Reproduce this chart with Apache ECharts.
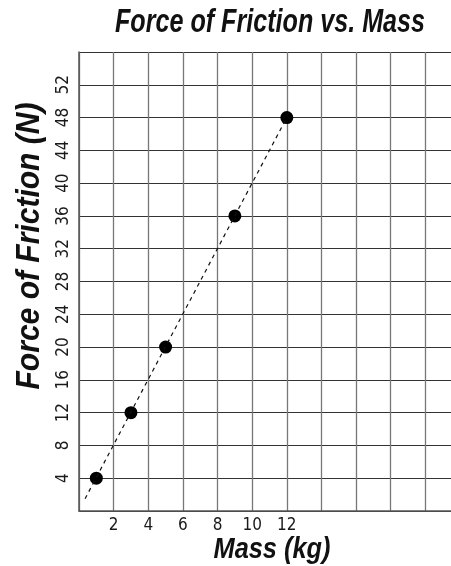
<!DOCTYPE html>
<html><head><meta charset="utf-8">
<script src="https://cdn.jsdelivr.net/npm/echarts@6/dist/echarts.min.js"></script>
<style>html,body{margin:0;padding:0;background:#fff}#c{width:451px;height:566px}</style>
</head><body><div id="c"></div>
<script>
const massKg = [1, 3, 5, 9, 12];
const frictionN = [4, 12, 20, 36, 48];
const trendLine = [[0.35, 1.5], [12, 48]];
const xTickLabels = [2, 4, 6, 8, 10, 12];
const yTickLabels = [4, 8, 12, 16, 20, 24, 28, 32, 36, 40, 44, 48, 52];
const titleText = 'Force of Friction vs. Mass';
const xName = 'Mass (kg)';
const yName = 'Force of Friction (N)';

const NAME_FONT = "'Liberation Sans', Arial, sans-serif";
const TICK_FONT = "'DejaVu Sans Condensed', 'Liberation Sans', sans-serif";
const cv = document.createElement('canvas').getContext('2d');
function condensed(text, size, targetWidth) {
  const font = `italic bold ${size}px ${NAME_FONT}`;
  cv.font = font;
  return {font, scale: targetWidth / cv.measureText(text).width};
}
const t = condensed(titleText, 34, 310);
const xn = condensed(xName, 30, 117);
const yn = condensed(yName, 34, 287);

const chart = echarts.init(document.getElementById('c'));
chart.setOption({
  animation: false,
  grid: {left: 79, top: 52, width: 381, height: 459, outerBoundsMode: 'none', containLabel: false},
  graphic: [
    {type: 'text', x: 270, y: 23, scaleX: t.scale,
     style: {text: titleText, font: t.font, fill: '#111', textAlign: 'center', textVerticalAlign: 'middle'}},
    {type: 'text', x: 272, y: 550, scaleX: xn.scale,
     style: {text: xName, font: xn.font, fill: '#111', textAlign: 'center', textVerticalAlign: 'middle'}},
    {type: 'text', x: 30, y: 246, rotation: Math.PI / 2, scaleX: yn.scale,
     style: {text: yName, font: yn.font, fill: '#111', textAlign: 'center', textVerticalAlign: 'middle'}}
  ],
  xAxis: {
    type: 'value', min: 0, max: 22, interval: 2,
    axisLine: {show: true, lineStyle: {color: '#555', width: 1.5}},
    axisTick: {show: false},
    axisLabel: {
      fontFamily: TICK_FONT, fontSize: 17, color: '#1a1a1a', margin: 6,
      formatter: v => xTickLabels.includes(v) ? String(v) : ''
    },
    splitLine: {show: true, lineStyle: {color: '#777', width: 1.3}}
  },
  yAxis: {
    type: 'value', min: 0, max: 56, interval: 4,
    axisLine: {show: true, lineStyle: {color: '#555', width: 1.5}},
    axisTick: {show: false},
    axisLabel: {
      fontFamily: TICK_FONT, fontSize: 17, color: '#1a1a1a', rotate: 90, margin: 7,
      formatter: v => yTickLabels.includes(v) ? String(v) : ''
    },
    splitLine: {show: true, lineStyle: {color: '#333', width: 1.2}}
  },
  series: [
    {
      type: 'line', data: trendLine, symbol: 'none', silent: true,
      lineStyle: {color: '#111', width: 1.2, type: [4, 4]}
    },
    {
      type: 'scatter', data: massKg.map((m, i) => [m, frictionN[i]]),
      symbolSize: 13, itemStyle: {color: '#000', opacity: 1}
    }
  ]
});
</script></body></html>
